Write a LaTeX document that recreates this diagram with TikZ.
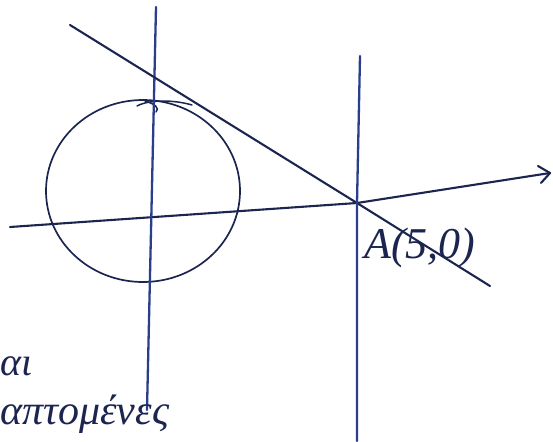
\documentclass[tikz,border=0pt]{standalone}
\usepackage{fontspec}
\setmainfont{Liberation Serif}
\usetikzlibrary{arrows.meta}
\definecolor{ink}{HTML}{1C2550}
\definecolor{blueink}{HTML}{2A3F8C}
\tikzset{
  pen/.style={draw=ink, line width=2.1pt, line cap=round, line join=round},
  bluepen/.style={draw=blueink, line width=2.3pt, line cap=round},
  hand/.style={text=ink, font=\itshape\fontsize{40}{46}\selectfont, inner sep=0pt},
}
\begin{document}
\begin{tikzpicture}[x=1pt, y=-1pt]
\useasboundingbox (0,0) rectangle (553,441);
% coordinates
\coordinate (xs) at (10,227);
\coordinate (A) at (357,203);
\coordinate (xe) at (550,173);
\coordinate (ytop) at (156,7);
\coordinate (ybot) at (147,410);
\coordinate (ts) at (70,25);
\coordinate (te) at (490,286);
\coordinate (vtop) at (360,56);
\coordinate (vbot) at (357,441);
\coordinate (C) at (143,191);
% circle
\draw[pen, line width=1.7pt] (C) ellipse [x radius=97, y radius=91];
\draw[pen, line width=1.5pt] (137,106) .. controls (150,99) and (175,100) .. (192,105);
\draw[pen, line width=1.5pt] (145,101) .. controls (155,104) and (160,108) .. (156,112);
% x-axis
\draw[pen] (xs) -- (A) -- (xe);
\draw[pen] (xe) -- (538,166);
\draw[pen] (xe) -- (541,183);
% y-axis
\draw[bluepen] (ytop) -- (ybot);
% tangent line
\draw[pen] (ts) -- (A) -- (te);
% vertical line through A
\draw[bluepen] (vtop) -- (A) -- (vbot);
% labels
\node[hand, anchor=west, font=\itshape\fontsize{44}{50}\selectfont] (lblA) at (364,248) {A(5,0)};
\node[hand, anchor=west] (t1) at (0,366) {αι};
\node[hand, anchor=west, font=\itshape\fontsize{42}{48}\selectfont] (t2) at (0,414) {απτομένες};
\end{tikzpicture}
\end{document}
